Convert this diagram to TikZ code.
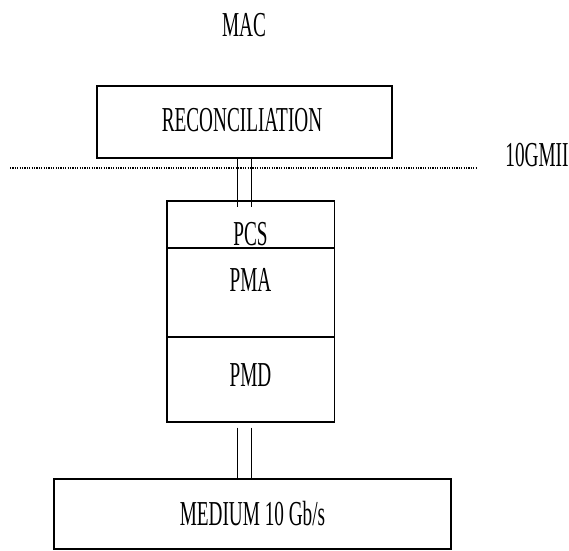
\documentclass[tikz,border=0pt]{standalone}
\usepackage{fontspec}
\newfontfamily\layerfont[FakeStretch=0.55]{Liberation Serif}
\usetikzlibrary{calc}

\begin{document}
\begin{tikzpicture}[x=1pt,y=1pt,
 font=\layerfont\fontsize{35}{38}\selectfont,
 box/.style={draw,line width=1.6pt,inner sep=0pt,outer sep=0pt},
 link/.style={line width=1pt},
 gmii/.style={line width=1.2pt,dash pattern=on 1.2pt off 1.2pt}]
\useasboundingbox (0,0) rectangle (569,550);
\node (mac) at (244,525) {MAC};
\node[box,minimum width=295,minimum height=72,
 label={[xshift=-2.5pt,yshift=2pt]center:RECONCILIATION}] (rec) at (244.5,428) {};
% 10GMII boundary
\coordinate (gl) at (10,382);
\coordinate (gr) at (476,382);
\draw[gmii] (gl)--(gr);
\node (gmiitxt) at (537,395) {10GMII};
% PHY stack
\node[box,minimum width=167.6,minimum height=47,
 label={[yshift=-10.3pt]center:PCS}] (pcs) at (250.5,325.8) {};
\node[box,minimum width=167.6,minimum height=89,
 label={[yshift=12.7pt]center:PMA}] (pma) at (250.5,257.8) {};
\node[box,minimum width=167.6,minimum height=85,
 label={[yshift=4pt]center:PMD}] (pmd) at (250.5,170.8) {};
\node[box,minimum width=397,minimum height=70] (medium) at (252.5,36) {MEDIUM 10 Gb/s};
% double links
\coordinate (ua) at ([xshift=-12.8pt]pcs.north);
\coordinate (ub) at ([xshift=0.5pt]pcs.north);
\draw[link] (ua |- rec.south)--([yshift=-6pt]ua);
\draw[link] (ub |- rec.south)--([yshift=-6pt]ub);
\coordinate (la) at ([xshift=-12.8pt]pmd.south);
\coordinate (lb) at ([xshift=0.5pt]pmd.south);
\draw[link] ([yshift=-6pt]la)--(la |- medium.north);
\draw[link] ([yshift=-6pt]lb)--(lb |- medium.north);
\end{tikzpicture}
\end{document}
